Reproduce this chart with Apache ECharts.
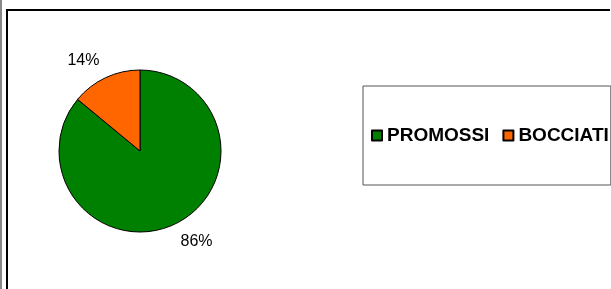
<!DOCTYPE html>
<html>
<head>
<meta charset="utf-8">
<script src="https://cdn.jsdelivr.net/npm/echarts@6/dist/echarts.min.js"></script>
<style>
  html, body { margin: 0; padding: 0; background: #fff; }
  #chart { width: 611px; height: 289px; }
</style>
</head>
<body>
<div id="chart"></div>
<script>
  // dati del grafico
  const categories = ['PROMOSSI', 'BOCCIATI'];
  const values = [86, 14];
  const colors = ['#008000', '#FF6600'];

  let chart = echarts.init(document.getElementById('chart'));

  chart.setOption({
    animation: false,
    textStyle: { fontFamily: 'Liberation Sans, Arial, sans-serif' },
    // cornice esterna
    graphic: [
      { type: 'line', shape: { x1: 1, y1: 0, x2: 1, y2: 289 }, style: { stroke: '#888', lineWidth: 2 } },
      { type: 'line', shape: { x1: 7, y1: 10, x2: 7, y2: 289 }, style: { stroke: '#000', lineWidth: 2 } },
      { type: 'line', shape: { x1: 6, y1: 10, x2: 610, y2: 10 }, style: { stroke: '#000', lineWidth: 2 } }
    ],
    legend: {
      left: 363,
      top: 86,
      orient: 'horizontal',
      icon: 'rect',
      itemWidth: 10,
      itemHeight: 10,
      itemGap: 13,
      padding: [40, 2, 40, 8],
      borderColor: '#555',
      borderWidth: 1,
      textStyle: { fontSize: 19, fontWeight: 'bold', color: '#000' },
      data: categories
    },
    series: [
      {
        type: 'pie',
        center: [140, 151],
        radius: 81,
        startAngle: 90,
        clockwise: true,
        avoidLabelOverlap: false,
        itemStyle: { borderColor: '#000', borderWidth: 1 },
        label: {
          show: true,
          position: 'outside',
          formatter: '{d}%',
          fontSize: 16,
          color: '#000',
          distanceToLabelLine: -2
        },
        labelLine: { show: false, length: 19, length2: 0 },
        emphasis: { disabled: true },
        data: categories.map((c, i) => ({
          name: c,
          value: values[i],
          itemStyle: { color: colors[i] }
        }))
      }
    ]
  });
</script>
</body>
</html>
